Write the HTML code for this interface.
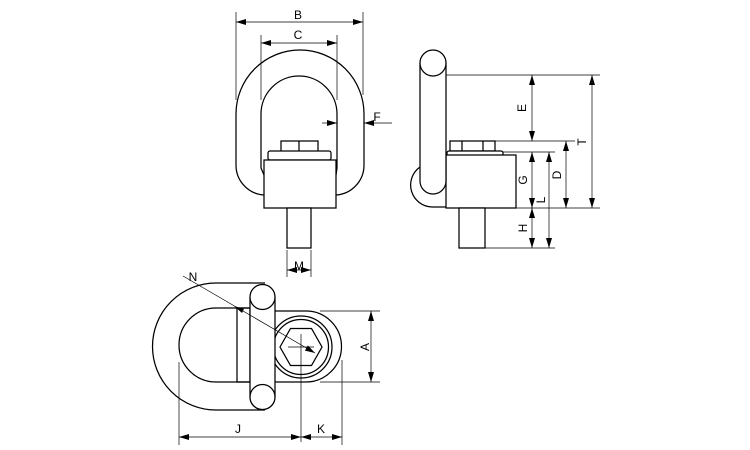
<!DOCTYPE html>
<html><head><meta charset="utf-8"><style>html,body{margin:0;padding:0;background:#fff}svg{display:block}</style></head>
<body>
<svg width="750" height="450" viewBox="0 0 750 450" xmlns="http://www.w3.org/2000/svg" font-family="Liberation Sans, sans-serif" font-size="12">
<defs>
<marker id="a" viewBox="0 0 10 6" refX="10" refY="3" markerWidth="10" markerHeight="6" orient="auto-start-reverse" markerUnits="userSpaceOnUse"><path d="M0,0L10,3L0,6z" fill="#000"/></marker>
</defs>
<g fill="none" stroke="#000" stroke-width="1.25">
<path d="M264,195 A30,30 0 0 1 236,165 L236,114 A64,64 0 0 1 364,114 L364,165 A30,30 0 0 1 336,195" fill="#fff"/>
<path d="M264,175 L261,168 L261,114 A38,38 0 0 1 337,114 L337,168 L336,175"/>
<rect x="281" y="141" width="37" height="11" fill="#fff"/>
<line x1="299" y1="141" x2="299" y2="152"/>
<rect x="268" y="151" width="63" height="9" rx="2" fill="#fff"/>
<rect x="264" y="160" width="72" height="48" fill="#fff"/>
<rect x="287" y="208" width="24" height="40" fill="#fff"/>
<path d="M420,167 A22,22 0 0 0 432,207 L446,207"/>
<rect x="450" y="141" width="45" height="10" fill="#fff"/>
<line x1="462" y1="141" x2="462" y2="151"/><line x1="483" y1="141" x2="483" y2="151"/>
<rect x="447" y="151" width="56" height="6" rx="2" fill="#fff"/>
<rect x="446" y="155" width="70" height="53" fill="#fff"/>
<rect x="459" y="208" width="26" height="40" fill="#fff"/>
<path d="M420,63 L420,181 A13,13 0 0 0 446,181 L446,63" fill="#fff"/>
<circle cx="433" cy="63" r="13" fill="#fff"/>
<path d="M265,283 L216,283 A63.5,63.5 0 0 0 216,410 L265,410" fill="#fff"/>
<path d="M250,308 L216,308 A37,37 0 0 0 216,382 L250,382"/>
<rect x="237" y="308" width="13" height="74"/>
<path d="M275,311 L306,311 A35.5,35.5 0 0 1 306,382 L275,382" fill="#fff"/>
<circle cx="301" cy="347" r="31"/>
<circle cx="301" cy="347" r="27.5"/>
<polygon points="280,347 290.5,328.5 311.5,328.5 322,347 311.5,365.5 290.5,365.5"/>
<path d="M250,297 L250,397 A12.5,12.5 0 0 0 275,397 L275,297" fill="#fff"/>
<circle cx="262.5" cy="297" r="12.5" fill="#fff"/>
<circle cx="262.5" cy="397" r="12.5" fill="#fff"/>
</g>
<g fill="none" stroke="#000" stroke-width="0.7">
<line x1="236" y1="12" x2="236" y2="100"/><line x1="363" y1="12" x2="363" y2="95"/>
<line x1="236" y1="22" x2="363" y2="22" marker-start="url(#a)" marker-end="url(#a)"/>
<line x1="261" y1="35" x2="261" y2="100"/><line x1="337" y1="35" x2="337" y2="100"/>
<line x1="261" y1="43" x2="337" y2="43" marker-start="url(#a)" marker-end="url(#a)"/>
<line x1="322" y1="123" x2="337" y2="123" marker-end="url(#a)"/>
<line x1="392" y1="123" x2="364" y2="123" marker-end="url(#a)"/>
<line x1="287" y1="250" x2="287" y2="277"/><line x1="311" y1="250" x2="311" y2="277"/>
<line x1="287" y1="270" x2="311" y2="270" marker-start="url(#a)" marker-end="url(#a)"/>
<line x1="446" y1="75" x2="600" y2="75"/>
<line x1="495" y1="141" x2="575" y2="141"/>
<line x1="503" y1="152" x2="555" y2="152"/>
<line x1="516" y1="208" x2="600" y2="208"/>
<line x1="485" y1="248" x2="555" y2="248"/>
<line x1="532" y1="75" x2="532" y2="141" marker-start="url(#a)" marker-end="url(#a)"/>
<line x1="592" y1="75" x2="592" y2="208" marker-start="url(#a)" marker-end="url(#a)"/>
<line x1="566" y1="141" x2="566" y2="208" marker-start="url(#a)" marker-end="url(#a)"/>
<line x1="532" y1="152" x2="532" y2="208" marker-start="url(#a)" marker-end="url(#a)"/>
<line x1="549" y1="152" x2="549" y2="248" marker-start="url(#a)" marker-end="url(#a)"/>
<line x1="532" y1="208" x2="532" y2="248" marker-start="url(#a)" marker-end="url(#a)"/>
<line x1="183" y1="276" x2="315" y2="353" marker-end="url(#a)"/>
<line x1="288" y1="347" x2="314" y2="347"/>
<line x1="301" y1="334" x2="301" y2="442"/>
<line x1="320" y1="311" x2="380" y2="311"/><line x1="320" y1="382" x2="380" y2="382"/>
<line x1="371" y1="311" x2="371" y2="382" marker-start="url(#a)" marker-end="url(#a)"/>
<line x1="179" y1="362" x2="179" y2="445"/><line x1="342" y1="360" x2="342" y2="445"/>
<line x1="179" y1="437" x2="301" y2="437" marker-start="url(#a)" marker-end="url(#a)"/>
<line x1="301" y1="437" x2="342" y2="437" marker-start="url(#a)" marker-end="url(#a)"/>
</g>
<path d="M234,306 L244,309 L242,313z" fill="#000"/>
<g fill="#000" text-anchor="middle">
<text x="298" y="19">B</text>
<text x="298" y="39">C</text>
<text x="377" y="121">F</text>
<text x="299" y="270">M</text>
<text x="193" y="281">N</text>
<text x="238" y="433">J</text>
<text x="321" y="433">K</text>
<text transform="translate(369,347) rotate(-90)">A</text>
<text transform="translate(526,108) rotate(-90)">E</text>
<text transform="translate(586,142) rotate(-90)">T</text>
<text transform="translate(561,175) rotate(-90)">D</text>
<text transform="translate(527,180) rotate(-90)">G</text>
<text transform="translate(545,200) rotate(-90)">L</text>
<text transform="translate(527,228) rotate(-90)">H</text>
</g>
</svg>
</body></html>
